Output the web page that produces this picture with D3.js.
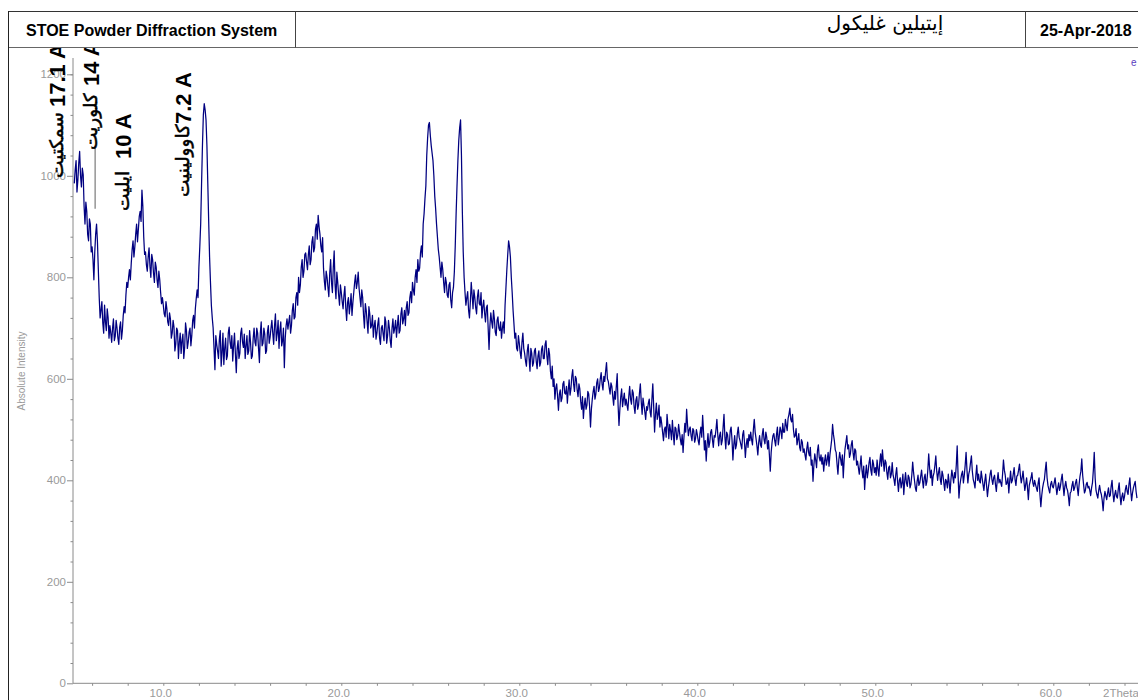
<!DOCTYPE html>
<html>
<head>
<meta charset="utf-8">
<script src="https://cdn.jsdelivr.net/npm/d3@7"></script>
<style>
  html, body { margin: 0; padding: 0; background: #fff; }
  svg { display: block; }
</style>
</head>
<body>
<script>
// Scan start and step, in degrees 2-theta
const thetaStart = 5.0;
const thetaStep = 0.1;

// Counts at the whole steps (5.0, 5.1, ...), one row per degree
const intensity = [
  985, 1030, 992, 1048, 978, 1002, 905, 930, 872, 905,
  860, 795, 885, 870, 760, 735, 710, 745, 695, 720,
  705, 672, 718, 684, 700, 668, 712, 695, 742, 765,
  780, 815, 828, 872, 860, 905, 895, 930, 972, 880,
  850, 812, 858, 800, 835, 790, 820, 780, 795, 748,
  745, 722, 738, 705, 718, 690, 702, 668, 695, 672,
  650, 688, 662, 695, 672, 700, 685, 725, 738, 775,
  820, 905, 1060, 1142, 1110, 985, 840, 745, 700, 618,
  668, 640, 695, 652, 628, 680, 645, 702, 660, 635,
  690, 612, 675, 650, 700, 662, 640, 685, 655, 672,
  645, 700, 665, 690, 632, 712, 670, 688, 655, 705,
  682, 715, 668, 728, 690, 660, 712, 675, 622, 705,
  698, 725, 705, 748, 722, 770, 800, 785, 835, 812,
  848, 815, 862, 835, 880, 858, 905, 922, 885, 850,
  818, 775, 800, 762, 835, 770, 852, 758, 790, 745,
  770, 738, 782, 715, 760, 745, 725, 770, 805, 790,
  778, 742, 760, 700, 735, 690, 728, 705, 682, 715,
  690, 720, 668, 705, 675, 712, 685, 700, 662, 718,
  700, 682, 725, 695, 740, 718, 705, 752, 730, 772,
  790, 765, 815, 835, 818, 862, 905, 955, 1040, 1100,
  1080, 1045, 1000, 935, 880, 840, 800, 815, 770, 790,
  760, 790, 740, 780, 860, 980, 1070, 1110, 930, 800,
  745, 772, 720, 790, 738, 760, 728, 775, 745, 720,
  755, 712, 745, 658, 730, 700, 718, 685, 722, 695,
  680, 712, 745, 815, 872, 840, 770, 708, 690, 655,
  670, 640, 690, 650, 625, 668, 615, 650, 632, 660,
  620, 655, 632, 665, 640, 675, 628, 648, 600, 585,
  560, 590, 538, 578, 562, 595, 570, 552, 598, 580,
  618, 575, 600, 565, 580, 540, 522, 562, 548, 570,
  505, 560, 585, 570, 600, 582, 612, 578, 595, 632,
  595, 570, 585, 548, 560, 610, 508, 565, 545, 572,
  560, 538, 585, 550, 572, 532, 565, 548, 590, 530,
  548, 520, 538, 560, 525, 590, 495, 552, 530, 505,
  512, 478, 505, 530, 482, 498, 518, 470, 502, 488,
  495, 470, 455, 512, 540, 488, 505, 478, 498, 482,
  490, 470, 505, 528, 460, 438, 492, 475, 500, 465,
  485, 520, 468, 495, 478, 530, 462, 490, 472, 505,
  440, 488, 470, 505, 478, 462, 498, 445, 482, 490,
  495, 470, 520, 482, 450, 488, 465, 502, 472, 485,
  478, 418, 475, 492, 468, 505, 485, 498, 512, 495,
  508, 522, 542, 515, 500, 488, 470, 492, 458, 475,
  462, 440, 475, 448, 430, 398, 452, 425, 470, 438,
  432, 418, 450, 440, 428, 465, 510, 478, 455, 412,
  455, 430, 405, 462, 488, 470, 452, 478, 440, 458,
  438, 412, 448, 405, 382, 430, 418, 445, 410, 432,
  425, 440, 408, 452, 460, 418, 435, 402, 428, 412,
  410, 390, 425, 378, 405, 395, 372, 415, 388, 405,
  392, 436, 400, 378, 410, 395, 420, 385, 412, 398,
  452, 405, 390, 415, 448, 400, 425, 392, 410, 380,
  398, 412, 375, 420, 395, 405, 468, 365, 402, 418,
  410, 455, 395, 420, 448, 402, 385, 430, 412, 395,
  405, 380, 412, 368, 398, 420, 392, 410, 378, 415,
  402, 388, 440, 410, 395, 375, 418, 400, 425, 390,
  410, 432, 395, 418, 380, 405, 362, 398, 415, 388,
  392, 378, 405, 348, 385, 402, 436, 390, 375, 398,
  385, 405, 372, 395, 388, 412, 370, 398, 380, 350,
  378, 398, 385, 402, 370, 408, 442, 392, 380, 396,
  388, 370, 395, 455, 380, 365, 390, 372, 340, 378,
  362, 385, 370, 400, 358, 380, 365, 395, 352, 375,
  368, 390, 372, 405, 360, 385, 398, 365
];

// Counts at the half steps (5.05, 5.15, ...), one row per degree
const intensityHalf = [
  1012, 968, 1025, 1000, 1015, 940, 948, 885, 915, 850,
  835, 850, 905, 815, 720, 752, 690, 712, 738, 680,
  690, 700, 675, 715, 680, 702, 678, 725, 730, 790,
  800, 795, 855, 840, 885, 870, 920, 910, 940, 845,
  825, 840, 822, 845, 808, 830, 795, 812, 770, 760,
  728, 752, 712, 730, 680, 715, 655, 700, 640, 690,
  675, 640, 710, 660, 692, 665, 715, 700, 758, 760,
  860, 985, 1120, 1130, 1060, 910, 790, 720, 660, 685,
  655, 678, 625, 690, 660, 638, 690, 672, 685, 665,
  650, 660, 640, 690, 672, 688, 665, 648, 695, 640,
  680, 672, 700, 660, 690, 665, 700, 650, 692, 670,
  700, 690, 705, 675, 715, 695, 665, 700, 680, 718,
  712, 690, 735, 718, 760, 745, 770, 820, 800, 845,
  830, 845, 825, 870, 850, 895, 875, 900, 862, 878,
  792, 812, 780, 808, 790, 820, 785, 810, 765, 785,
  752, 765, 740, 750, 728, 768, 750, 790, 778, 810,
  760, 775, 725, 748, 712, 742, 700, 725, 705, 678,
  708, 680, 700, 688, 722, 670, 715, 675, 700, 690,
  715, 705, 690, 728, 708, 735, 740, 725, 760, 750,
  775, 800, 790, 812, 848, 840, 925, 980, 1075, 1105,
  1060, 1030, 960, 905, 855, 820, 830, 790, 800, 765,
  785, 755, 770, 810, 925, 1030, 1095, 1040, 850, 770,
  760, 735, 752, 765, 775, 740, 762, 748, 770, 742,
  730, 740, 700, 705, 712, 735, 692, 715, 700, 712,
  700, 690, 780, 845, 860, 800, 735, 680, 660, 685,
  652, 672, 660, 635, 655, 640, 660, 625, 655, 635,
  645, 625, 658, 640, 668, 645, 660, 615, 625, 600,
  582, 565, 570, 555, 590, 572, 585, 578, 568, 605,
  590, 605, 578, 590, 555, 565, 548, 540, 575, 545,
  540, 575, 560, 592, 575, 600, 590, 605, 615, 600,
  582, 592, 565, 575, 585, 548, 540, 580, 560, 548,
  548, 565, 560, 578, 545, 558, 540, 572, 555, 562,
  535, 545, 552, 535, 560, 545, 530, 520, 548, 525,
  495, 500, 485, 508, 510, 480, 492, 505, 480, 510,
  480, 490, 485, 495, 510, 500, 488, 502, 475, 500,
  478, 492, 485, 495, 478, 470, 465, 495, 480, 488,
  500, 490, 488, 470, 505, 485, 495, 470, 498, 480,
  470, 462, 492, 485, 470, 490, 475, 470, 465, 478,
  480, 500, 495, 468, 475, 470, 490, 480, 495, 462,
  450, 455, 488, 478, 490, 470, 505, 482, 495, 520,
  498, 530, 520, 530, 485, 502, 480, 465, 480, 455,
  450, 462, 455, 465, 440, 430, 440, 458, 445, 450,
  445, 438, 430, 455, 450, 480, 490, 460, 432, 440,
  442, 450, 440, 475, 462, 445, 470, 455, 462, 430,
  425, 430, 420, 428, 412, 405, 435, 420, 440, 415,
  410, 422, 435, 428, 438, 440, 415, 425, 405, 435,
  402, 412, 398, 400, 385, 412, 398, 395, 410, 385,
  410, 415, 385, 398, 390, 408, 400, 405, 390, 420,
  425, 420, 408, 430, 418, 415, 402, 418, 395, 402,
  385, 395, 402, 408, 415, 430, 410, 390, 412, 395,
  430, 420, 412, 435, 418, 395, 410, 400, 398, 418,
  392, 398, 390, 385, 412, 402, 405, 392, 400, 395,
  395, 412, 420, 392, 405, 398, 395, 412, 402, 408,
  420, 410, 405, 398, 392, 385, 390, 405, 395, 400,
  385, 395, 372, 370, 395, 420, 405, 382, 392, 388,
  395, 388, 385, 380, 402, 390, 388, 385, 368, 375,
  390, 380, 395, 385, 392, 418, 410, 375, 392, 385,
  380, 385, 420, 405, 372, 380, 378, 360, 365, 370,
  375, 368, 388, 375, 372, 368, 382, 370, 368, 360,
  382, 378, 392, 380, 375, 392, 378
];

// Axis ticks
const xMajorTicks = [10, 20, 30, 40, 50, 60];
const xMinorTicks = [6, 8, 12, 14, 16, 18, 22, 24, 26, 28, 32, 34, 36, 38, 42, 44, 46, 48, 52, 54, 56, 58, 62, 64];
const yMajorTicks = [0, 200, 400, 600, 800, 1000, 1200];
const yMinorTicks = [40, 80, 120, 160, 240, 280, 320, 360, 440, 480, 520, 560, 640, 680, 720, 760, 840, 880, 920, 960, 1040, 1080, 1120, 1160, 1200];

// Header cells
const headerTitle = "STOE Powder Diffraction System";
const headerSample = "إيتيلين غليكول";
const headerDate = "25-Apr-2018";

// Clay mineral reflections: name, d-spacing label
const mineralNames = ["سمكتيت", "كلوريت", "ايليت", "كاوولينيت"];
const mineralSpacings = ["17.1 A", "14 A", "10 A", "7.2 A"];
// Chlorite reflection marker (2-theta, top and bottom counts)
const chloriteMarker = { theta: 6.17, top: 1056, bottom: 935 };

// Label placement (pixels) for the rotated mineral labels
const labelLayout = [
  { cx: 57,  nameBottom: 178, spacingBottom: 107 },
  { cx: 91,  nameBottom: 150, spacingBottom: 86 },
  { cx: 123, nameBottom: 211, spacingBottom: 159 },
  { cx: 183, nameBottom: 197, spacingBottom: 124 }
];

const W = 1138, H = 700;
const svg = d3.select("body").append("svg").attr("width", W).attr("height", H);

const x = d3.scaleLinear().domain([5, 65]).range([74.3, 1142.3]);
const y = d3.scaleLinear().domain([0, 1200]).range([683.3, 74.3]);

// Merge whole and half steps into one ordered scan
const points = [];
intensity.forEach((v, i) => {
  points.push([thetaStart + i * thetaStep, v]);
  if (i < intensityHalf.length) points.push([thetaStart + (i + 0.5) * thetaStep, intensityHalf[i]]);
});

// Plot clip
svg.append("defs").append("clipPath").attr("id", "plotClip")
  .append("rect").attr("x", 73).attr("y", 48).attr("width", W - 73).attr("height", 640);

const axisFont = "'Liberation Sans', Arial, sans-serif";

// Y axis
const yAxisG = svg.append("g").attr("transform", "translate(73,0)");
yAxisG.call(d3.axisLeft(y).tickValues(yMinorTicks).tickSize(2.5).tickFormat(""));
yAxisG.append("g").call(d3.axisLeft(y).tickValues(yMajorTicks).tickSize(6).tickPadding(1).tickFormat(d3.format("d")));
yAxisG.selectAll(".domain").remove();
yAxisG.append("line").attr("x1", 0).attr("x2", 0).attr("y1", 58).attr("y2", y(0)).attr("stroke", "#8a8a8a");
yAxisG.selectAll(".tick line").attr("stroke", "#8a8a8a");
yAxisG.selectAll(".tick text")
  .attr("fill", "#9a9a9a").style("font-family", axisFont).style("font-size", "11.5px");

// X axis
const xAxisG = svg.append("g").attr("transform", `translate(0,${y(0)})`);
xAxisG.call(d3.axisBottom(x).tickValues(xMinorTicks).tickSize(2.5).tickFormat(""));
xAxisG.append("g").call(d3.axisBottom(x).tickValues(xMajorTicks).tickSize(2.5).tickPadding(3).tickFormat(d3.format(".1f")));
xAxisG.selectAll(".domain").remove();
xAxisG.append("line").attr("x1", 73).attr("x2", W).attr("y1", 0).attr("y2", 0).attr("stroke", "#8a8a8a");
xAxisG.selectAll(".tick line").attr("stroke", "#8a8a8a");
xAxisG.selectAll(".tick text")
  .attr("fill", "#9a9a9a").attr("dx", -3)
  .style("font-family", axisFont).style("font-size", "11.5px");
xAxisG.append("text").attr("x", 1103).attr("y", 14).attr("text-anchor", "start")
  .attr("fill", "#9a9a9a").style("font-family", axisFont).style("font-size", "11.5px")
  .text("2Theta");

// Y axis title
svg.append("text")
  .attr("transform", "translate(25,371) rotate(-90)")
  .attr("text-anchor", "middle")
  .attr("fill", "#9a9a9a")
  .style("font-family", axisFont).style("font-size", "10px")
  .text("Absolute Intensity");

// Diffraction trace
svg.append("path")
  .datum(points)
  .attr("clip-path", "url(#plotClip)")
  .attr("fill", "none")
  .attr("stroke", "#000080")
  .attr("stroke-width", 1.25)
  .attr("stroke-linejoin", "round")
  .attr("d", d3.line().x(d => x(d[0])).y(d => y(d[1])));

// Chlorite marker line
svg.append("line")
  .attr("x1", x(chloriteMarker.theta)).attr("x2", x(chloriteMarker.theta))
  .attr("y1", y(chloriteMarker.top)).attr("y2", y(chloriteMarker.bottom))
  .attr("stroke", "#7a7a7a").attr("stroke-width", 1.2);

// Rotated mineral labels
const labels = svg.append("g");
mineralNames.forEach((name, i) => {
  const L = labelLayout[i];
  labels.append("text")
    .attr("transform", `translate(${L.cx},${L.nameBottom}) rotate(-90)`)
    .attr("dy", "0.35em")
    .attr("fill", "#000")
    .attr("stroke", "#000").attr("stroke-width", 0.5)
    .style("font-family", "'DejaVu Sans', sans-serif").style("font-size", "18.5px")
    .text(name);
  labels.append("text")
    .attr("transform", `translate(${L.cx},${L.spacingBottom}) rotate(-90)`)
    .attr("dy", "0.35em")
    .attr("fill", "#000")
    .style("font-family", axisFont).style("font-size", "22px").style("font-weight", "bold")
    .text(mineralSpacings[i]);
});

// Legend stub at the right edge
svg.append("text").attr("x", 1131).attr("y", 66)
  .attr("fill", "#5a3cc0").style("font-family", axisFont).style("font-size", "10px")
  .text("e");

// Header band
const header = svg.append("g");
header.append("rect").attr("x", 0).attr("y", 0).attr("width", W).attr("height", 47.5).attr("fill", "#fff");
header.append("line").attr("x1", 8).attr("x2", W).attr("y1", 11.5).attr("y2", 11.5).attr("stroke", "#333");
header.append("line").attr("x1", 8).attr("x2", W).attr("y1", 47.5).attr("y2", 47.5).attr("stroke", "#666");
header.append("line").attr("x1", 8.5).attr("x2", 8.5).attr("y1", 11).attr("y2", H).attr("stroke", "#222");
header.append("line").attr("x1", 295.5).attr("x2", 295.5).attr("y1", 11.5).attr("y2", 47.5).attr("stroke", "#444");
header.append("line").attr("x1", 1025.5).attr("x2", 1025.5).attr("y1", 11.5).attr("y2", 47.5).attr("stroke", "#444");
header.append("text").attr("x", 26).attr("y", 35.5)
  .attr("fill", "#000").style("font-family", axisFont).style("font-size", "16px").style("font-weight", "bold")
  .text(headerTitle);
header.append("text").attr("x", 885).attr("y", 30).attr("text-anchor", "middle")
  .attr("fill", "#000").style("font-family", "'DejaVu Sans', sans-serif").style("font-size", "20px")
  .text(headerSample);
header.append("text").attr("x", 1040).attr("y", 35.5)
  .attr("fill", "#000").style("font-family", axisFont).style("font-size", "16px").style("font-weight", "bold")
  .text(headerDate);
</script>
</body>
</html>
